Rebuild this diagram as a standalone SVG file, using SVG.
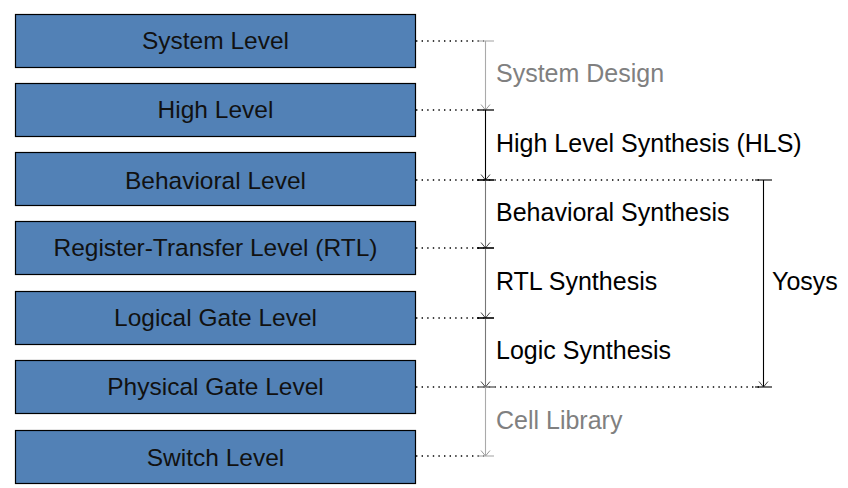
<svg xmlns="http://www.w3.org/2000/svg" width="848" height="488" viewBox="0 0 848 488">
  <defs>
    <style>
      .box { fill: #5281b6; stroke: #000; stroke-width: 1.2; }
      .lbl { font-family: "Liberation Sans", Arial, sans-serif; font-size: 24.5px; fill: #111; }
      .mid { text-anchor: middle; }
      .side { font-family: "Liberation Sans", Arial, sans-serif; font-size: 25px; }
      .dot { stroke: #000; stroke-width: 1.3; stroke-dasharray: 1.4 4.2; fill: none; }
      .seg { fill: none; stroke-width: 1.1; }
      .light { stroke: #aaaaaa; }
      .dark { stroke: #000; }
      .grey { stroke: #777; }
      marker { overflow: visible; }
    </style>
    <marker id="headLight" viewBox="-10 -10 20 20" markerWidth="20" markerHeight="20" refX="0" refY="0" orient="auto" markerUnits="userSpaceOnUse">
      <path d="M-5.5,-4.5 L0,0 L-5.5,4.5" fill="none" stroke="#999" stroke-width="1"/>
      <path d="M0,-8.5 L0,8.5" stroke="#aaa" stroke-width="1.1"/>
    </marker>
    <marker id="headDark" viewBox="-10 -10 20 20" markerWidth="20" markerHeight="20" refX="0" refY="0" orient="auto" markerUnits="userSpaceOnUse">
      <path d="M-5.5,-4.5 L0,0 L-5.5,4.5" fill="none" stroke="#444" stroke-width="1"/>
      <path d="M0,-8.5 L0,8.5" stroke="#000" stroke-width="1.1"/>
    </marker>
    <marker id="barLight" viewBox="-10 -10 20 20" markerWidth="20" markerHeight="20" refX="0" refY="0" orient="auto" markerUnits="userSpaceOnUse">
      <path d="M0,-8.5 L0,8.5" stroke="#aaa" stroke-width="1.1"/>
    </marker>
    <marker id="barDark" viewBox="-10 -10 20 20" markerWidth="20" markerHeight="20" refX="0" refY="0" orient="auto" markerUnits="userSpaceOnUse">
      <path d="M0,-8.5 L0,8.5" stroke="#000" stroke-width="1.1"/>
    </marker>
  </defs>

  <rect width="848" height="488" fill="#fff"/>

  <!-- abstraction levels -->
  <g id="system-level">
    <rect class="box" x="15.5" y="14.5" width="400" height="53"/>
    <text class="lbl mid" x="215.5" y="49">System Level</text>
  </g>
  <g id="high-level">
    <rect class="box" x="15.5" y="83.5" width="400" height="53"/>
    <text class="lbl mid" x="215.5" y="118">High Level</text>
  </g>
  <g id="behavioral-level">
    <rect class="box" x="15.5" y="152.5" width="400" height="53"/>
    <text class="lbl mid" x="215.5" y="189">Behavioral Level</text>
  </g>
  <g id="rtl-level">
    <rect class="box" x="15.5" y="221.5" width="400" height="53"/>
    <text class="lbl mid" x="215.5" y="256">Register-Transfer Level (RTL)</text>
  </g>
  <g id="logical-gate-level">
    <rect class="box" x="15.5" y="291.5" width="400" height="53"/>
    <text class="lbl mid" x="215.5" y="326">Logical Gate Level</text>
  </g>
  <g id="physical-gate-level">
    <rect class="box" x="15.5" y="360.5" width="400" height="53"/>
    <text class="lbl mid" x="215.5" y="395">Physical Gate Level</text>
  </g>
  <g id="switch-level">
    <rect class="box" x="15.5" y="430.5" width="400" height="53"/>
    <text class="lbl mid" x="215.5" y="466">Switch Level</text>
  </g>

  <!-- guide lines and synthesis steps -->
  <g id="connectors">
    <path class="dot" d="M416,41 H484"/>
    <path class="dot" d="M416,110 H484"/>
    <path class="dot" d="M416,180 H762"/>
    <path class="dot" d="M416,248 H484"/>
    <path class="dot" d="M416,318 H484"/>
    <path class="dot" d="M416,387 H762"/>
    <path class="dot" d="M416,456 H484"/>

    <path class="seg light" d="M485.5,41 V110" marker-start="url(#barLight)" marker-end="url(#headLight)"/>
    <path class="seg dark" d="M485.5,110 V180" marker-start="url(#barDark)" marker-end="url(#headDark)"/>
    <path class="seg grey" d="M485.5,180 V248" marker-start="url(#barDark)" marker-end="url(#headDark)"/>
    <path class="seg grey" d="M485.5,248 V318" marker-start="url(#barDark)" marker-end="url(#headDark)"/>
    <path class="seg grey" d="M485.5,318 V387" marker-start="url(#barDark)" marker-end="url(#headDark)"/>
    <path class="seg light" d="M485.5,387 V456" marker-start="url(#barLight)" marker-end="url(#headLight)"/>

    <path class="seg dark" d="M763.5,180 V387" marker-start="url(#barDark)" marker-end="url(#headDark)"/>
  </g>

  <g id="step-labels">
    <text class="side" x="496" y="82" fill="#808080">System Design</text>
    <text class="side" x="496" y="152" fill="#000">High Level Synthesis (HLS)</text>
    <text class="side" x="496" y="221" fill="#000">Behavioral Synthesis</text>
    <text class="side" x="496" y="290" fill="#000">RTL Synthesis</text>
    <text class="side" x="496" y="359" fill="#000">Logic Synthesis</text>
    <text class="side" x="496" y="429" fill="#808080">Cell Library</text>
    <text class="side" x="772" y="290" fill="#000">Yosys</text>
  </g>
</svg>
